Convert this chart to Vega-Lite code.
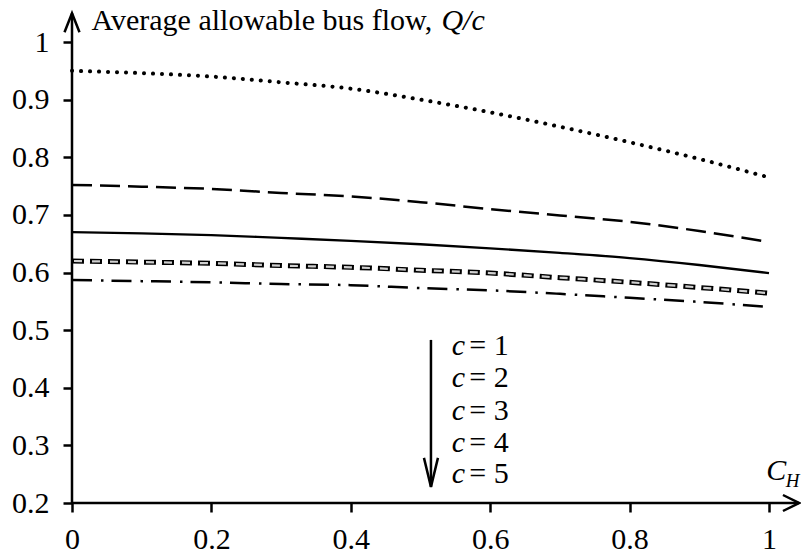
{
  "$schema": "https://vega.github.io/schema/vega-lite/v6.json",
  "width": 697,
  "height": 461,
  "autosize": {"type": "none"},
  "padding": {"left": 72, "top": 42, "right": 32, "bottom": 51},
  "background": "white",
  "config": {
    "view": {"stroke": null},
    "font": "Liberation Serif",
    "axis": {
      "domain": false, "grid": false, "title": null,
      "labelFont": "Liberation Serif", "labelFontSize": 30, "labelColor": "black",
      "tickColor": "black", "tickWidth": 2.5, "tickSize": 9,
      "labelFlush": false, "labelOverlap": false, "labelBound": false, "format": "~g"
    }
  },
  "datasets": {
    "curves": [
      {"c": 1, "h": 0, "q": 0.950}, {"c": 1, "h": 0.1, "q": 0.946}, {"c": 1, "h": 0.2, "q": 0.940}, {"c": 1, "h": 0.3, "q": 0.930}, {"c": 1, "h": 0.4, "q": 0.919}, {"c": 1, "h": 0.5, "q": 0.900}, {"c": 1, "h": 0.6, "q": 0.878}, {"c": 1, "h": 0.7, "q": 0.853}, {"c": 1, "h": 0.8, "q": 0.826}, {"c": 1, "h": 0.9, "q": 0.797}, {"c": 1, "h": 1, "q": 0.765},
      {"c": 2, "h": 0, "q": 0.752}, {"c": 2, "h": 0.1, "q": 0.749}, {"c": 2, "h": 0.2, "q": 0.745}, {"c": 2, "h": 0.3, "q": 0.738}, {"c": 2, "h": 0.4, "q": 0.732}, {"c": 2, "h": 0.5, "q": 0.722}, {"c": 2, "h": 0.6, "q": 0.710}, {"c": 2, "h": 0.7, "q": 0.699}, {"c": 2, "h": 0.8, "q": 0.688}, {"c": 2, "h": 0.9, "q": 0.672}, {"c": 2, "h": 1, "q": 0.653},
      {"c": 3, "h": 0, "q": 0.670}, {"c": 3, "h": 0.1, "q": 0.668}, {"c": 3, "h": 0.2, "q": 0.665}, {"c": 3, "h": 0.3, "q": 0.660}, {"c": 3, "h": 0.4, "q": 0.655}, {"c": 3, "h": 0.5, "q": 0.649}, {"c": 3, "h": 0.6, "q": 0.642}, {"c": 3, "h": 0.7, "q": 0.634}, {"c": 3, "h": 0.8, "q": 0.625}, {"c": 3, "h": 0.9, "q": 0.613}, {"c": 3, "h": 1, "q": 0.599},
      {"c": 4, "h": 0, "q": 0.620}, {"c": 4, "h": 0.1, "q": 0.618}, {"c": 4, "h": 0.2, "q": 0.616}, {"c": 4, "h": 0.3, "q": 0.612}, {"c": 4, "h": 0.4, "q": 0.609}, {"c": 4, "h": 0.5, "q": 0.604}, {"c": 4, "h": 0.6, "q": 0.599}, {"c": 4, "h": 0.7, "q": 0.591}, {"c": 4, "h": 0.8, "q": 0.583}, {"c": 4, "h": 0.9, "q": 0.574}, {"c": 4, "h": 1, "q": 0.564},
      {"c": 5, "h": 0, "q": 0.587}, {"c": 5, "h": 0.1, "q": 0.585}, {"c": 5, "h": 0.2, "q": 0.583}, {"c": 5, "h": 0.3, "q": 0.580}, {"c": 5, "h": 0.4, "q": 0.578}, {"c": 5, "h": 0.5, "q": 0.573}, {"c": 5, "h": 0.6, "q": 0.569}, {"c": 5, "h": 0.7, "q": 0.563}, {"c": 5, "h": 0.8, "q": 0.556}, {"c": 5, "h": 0.9, "q": 0.549}, {"c": 5, "h": 1, "q": 0.540}
    ],
    "rules": [
      {"x": 0, "y": 0.2, "x2": 0, "y2": 1.05},
      {"x": 0, "y": 0.2, "x2": 1.043, "y2": 0.2},
      {"x": 0.515, "y": 0.483, "x2": 0.515, "y2": 0.228}
    ],
    "arrowUp": [{"x": 0, "y": 1.05}],
    "arrowRight": [{"x": 1.043, "y": 0.2}],
    "arrowDown": [{"x": 0.515, "y": 0.228}],
    "regular": [
      {"x": 0.028, "y": 1.021, "t": "Average allowable bus flow,"},
      {"x": 0.570, "y": 0.457, "t": "= 1"},
      {"x": 0.570, "y": 0.401, "t": "= 2"},
      {"x": 0.570, "y": 0.344, "t": "= 3"},
      {"x": 0.570, "y": 0.289, "t": "= 4"},
      {"x": 0.570, "y": 0.235, "t": "= 5"}
    ],
    "italic": [
      {"x": 0.530, "y": 1.021, "t": "Q/c"},
      {"x": 0.996, "y": 0.240, "t": "C"},
      {"x": 0.545, "y": 0.457, "t": "c"},
      {"x": 0.545, "y": 0.401, "t": "c"},
      {"x": 0.545, "y": 0.344, "t": "c"},
      {"x": 0.545, "y": 0.289, "t": "c"},
      {"x": 0.545, "y": 0.235, "t": "c"}
    ],
    "sub": [{"x": 1.024, "y": 0.228, "t": "H"}]
  },
  "layer": [
    {
      "data": {"name": "rules"},
      "mark": {"type": "rule", "color": "black", "strokeWidth": 2.5},
      "encoding": {
        "x": {"field": "x", "type": "quantitative", "scale": {"domain": [0, 1], "nice": false, "zero": false},
              "axis": {"values": [0, 0.2, 0.4, 0.6, 0.8, 1], "labelPadding": 12}},
        "y": {"field": "y", "type": "quantitative", "scale": {"domain": [0.2, 1], "nice": false, "zero": false},
              "axis": {"values": [0.2, 0.3, 0.4, 0.5, 0.6, 0.7, 0.8, 0.9, 1], "labelPadding": 14}},
        "x2": {"field": "x2"},
        "y2": {"field": "y2"}
      }
    },
    {
      "data": {"name": "arrowUp"},
      "mark": {"type": "point", "shape": "M-0.75,1.9L0,0L0.75,1.9", "filled": false, "size": 400, "strokeWidth": 2.5, "color": "black", "opacity": 1},
      "encoding": {
        "x": {"field": "x", "type": "quantitative", "scale": {"domain": [0, 1], "nice": false, "zero": false}},
        "y": {"field": "y", "type": "quantitative", "scale": {"domain": [0.2, 1], "nice": false, "zero": false}}
      }
    },
    {
      "data": {"name": "arrowRight"},
      "mark": {"type": "point", "shape": "M-1.6,-0.8L0,0L-1.6,0.8", "filled": false, "size": 400, "strokeWidth": 2.5, "color": "black", "opacity": 1},
      "encoding": {
        "x": {"field": "x", "type": "quantitative", "scale": {"domain": [0, 1], "nice": false, "zero": false}},
        "y": {"field": "y", "type": "quantitative", "scale": {"domain": [0.2, 1], "nice": false, "zero": false}}
      }
    },
    {
      "data": {"name": "arrowDown"},
      "mark": {"type": "point", "shape": "M-0.7,-2.9L0,0L0.7,-2.9", "filled": false, "size": 400, "strokeWidth": 2.5, "color": "black", "opacity": 1},
      "encoding": {
        "x": {"field": "x", "type": "quantitative", "scale": {"domain": [0, 1], "nice": false, "zero": false}},
        "y": {"field": "y", "type": "quantitative", "scale": {"domain": [0.2, 1], "nice": false, "zero": false}}
      }
    },
    {
      "data": {"name": "curves"},
      "transform": [{"filter": "datum.c == 1"}],
      "mark": {"type": "line", "interpolate": "monotone", "color": "black", "strokeWidth": 4, "strokeDash": [0.1, 8.9], "strokeCap": "round"},
      "encoding": {
        "x": {"field": "h", "type": "quantitative", "scale": {"domain": [0, 1], "nice": false, "zero": false}},
        "y": {"field": "q", "type": "quantitative", "scale": {"domain": [0.2, 1], "nice": false, "zero": false}}
      }
    },
    {
      "data": {"name": "curves"},
      "transform": [{"filter": "datum.c == 2"}],
      "mark": {"type": "line", "interpolate": "monotone", "color": "black", "strokeWidth": 2.5, "strokeDash": [20, 8]},
      "encoding": {
        "x": {"field": "h", "type": "quantitative", "scale": {"domain": [0, 1], "nice": false, "zero": false}},
        "y": {"field": "q", "type": "quantitative", "scale": {"domain": [0.2, 1], "nice": false, "zero": false}}
      }
    },
    {
      "data": {"name": "curves"},
      "transform": [{"filter": "datum.c == 3"}],
      "mark": {"type": "line", "interpolate": "monotone", "color": "black", "strokeWidth": 2.3},
      "encoding": {
        "x": {"field": "h", "type": "quantitative", "scale": {"domain": [0, 1], "nice": false, "zero": false}},
        "y": {"field": "q", "type": "quantitative", "scale": {"domain": [0.2, 1], "nice": false, "zero": false}}
      }
    },
    {
      "data": {"name": "curves"},
      "transform": [{"filter": "datum.c == 4"}],
      "mark": {"type": "line", "interpolate": "monotone", "color": "black", "strokeWidth": 5, "strokeDash": [12, 6]},
      "encoding": {
        "x": {"field": "h", "type": "quantitative", "scale": {"domain": [0, 1], "nice": false, "zero": false}},
        "y": {"field": "q", "type": "quantitative", "scale": {"domain": [0.2, 1], "nice": false, "zero": false}}
      }
    },
    {
      "data": {"name": "curves"},
      "transform": [{"filter": "datum.c == 4"}],
      "mark": {"type": "line", "interpolate": "monotone", "color": "#d0d0d0", "strokeWidth": 2.2, "strokeDash": [8, 10], "strokeDashOffset": -2},
      "encoding": {
        "x": {"field": "h", "type": "quantitative", "scale": {"domain": [0, 1], "nice": false, "zero": false}},
        "y": {"field": "q", "type": "quantitative", "scale": {"domain": [0.2, 1], "nice": false, "zero": false}}
      }
    },
    {
      "data": {"name": "curves"},
      "transform": [{"filter": "datum.c == 5"}],
      "mark": {"type": "line", "interpolate": "monotone", "color": "black", "strokeWidth": 2.5, "strokeDash": [20, 9, 2.5, 8]},
      "encoding": {
        "x": {"field": "h", "type": "quantitative", "scale": {"domain": [0, 1], "nice": false, "zero": false}},
        "y": {"field": "q", "type": "quantitative", "scale": {"domain": [0.2, 1], "nice": false, "zero": false}}
      }
    },
    {
      "data": {"name": "regular"},
      "mark": {"type": "text", "align": "left", "baseline": "alphabetic", "font": "Liberation Serif", "fontSize": 30, "color": "black"},
      "encoding": {
        "x": {"field": "x", "type": "quantitative", "scale": {"domain": [0, 1], "nice": false, "zero": false}},
        "y": {"field": "y", "type": "quantitative", "scale": {"domain": [0.2, 1], "nice": false, "zero": false}},
        "text": {"field": "t"}
      }
    },
    {
      "data": {"name": "italic"},
      "mark": {"type": "text", "align": "left", "baseline": "alphabetic", "font": "Liberation Serif", "fontStyle": "italic", "fontSize": 30, "color": "black"},
      "encoding": {
        "x": {"field": "x", "type": "quantitative", "scale": {"domain": [0, 1], "nice": false, "zero": false}},
        "y": {"field": "y", "type": "quantitative", "scale": {"domain": [0.2, 1], "nice": false, "zero": false}},
        "text": {"field": "t"}
      }
    },
    {
      "data": {"name": "sub"},
      "mark": {"type": "text", "align": "left", "baseline": "alphabetic", "font": "Liberation Serif", "fontStyle": "italic", "fontSize": 19, "color": "black"},
      "encoding": {
        "x": {"field": "x", "type": "quantitative", "scale": {"domain": [0, 1], "nice": false, "zero": false}},
        "y": {"field": "y", "type": "quantitative", "scale": {"domain": [0.2, 1], "nice": false, "zero": false}},
        "text": {"field": "t"}
      }
    }
  ]
}
